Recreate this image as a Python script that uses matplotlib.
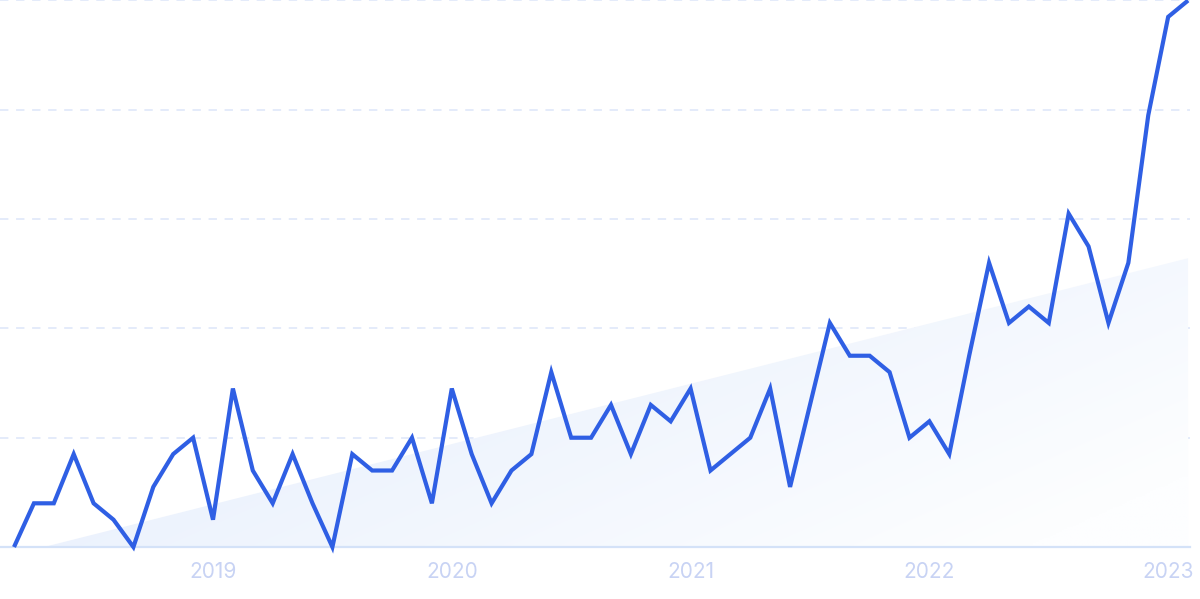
import numpy as np
import matplotlib
matplotlib.use("Agg")
import matplotlib.pyplot as plt
from matplotlib.patches import Polygon

# Monthly values, Mar 2018 .. Feb 2023 (normalized 0-100)
values = [0, 8, 8, 17, 8, 5, 0, 11, 17, 20,
          5, 29, 14, 8, 17, 8, 0, 17, 14, 14,
          20, 8, 29, 17, 8, 14, 17, 32, 20, 20,
          26, 17, 26, 23, 29, 14, 17, 20, 29, 11,
          26, 41, 35, 35, 32, 20, 23, 17, 35, 52,
          41, 44, 41, 61, 55, 41, 52, 79, 97, 100]
year_labels = ["2019", "2020", "2021", "2022", "2023"]
year_positions = [10, 22, 34, 46, 58]   # index of January in each year
grid_levels = [20, 40, 60, 80, 100]

x = np.arange(len(values))
y = np.array(values, dtype=float)

fig = plt.figure(figsize=(12, 5.99), dpi=100)
ax = fig.add_axes([0, 0, 1, 1])
ax.set_xlim(-0.704, 59.6)
ax.set_ylim(-9.51, 100.09)
ax.axis("off")

# grid lines
for g in grid_levels:
    ax.plot([-0.704, 59.1], [g, g], color="#dde6f9", lw=1.1,
            dashes=(5.5, 5), zorder=1)
ax.plot([-0.704, 59.1], [0, 0], color="#d4e2f8", lw=1.6, zorder=2)

# trend fill (linear fit, clipped at zero)
slope, intercept = np.polyfit(x, y, 1)
x0 = max(-intercept / slope, 0)
x_end = x[-1]
ytop = slope * x_end + intercept
poly_pts = [(x0, 0), (x_end, ytop), (x_end, 0)]
poly = Polygon(poly_pts, closed=True, facecolor="none", edgecolor="none")
ax.add_patch(poly)
nx, ny = 400, 200
gx = np.linspace(0, 1, nx)
gy = np.linspace(0, 1, ny)
GX, GY = np.meshgrid(gx, gy)
t = np.clip(0.7 * GX + 0.4 * GY, 0, 1)  # row 0 = top (origin upper)
c0 = np.array([225, 235, 252]) / 255.0
c1 = np.array([253, 254, 255]) / 255.0
img = c0[None, None, :] * (1 - t[..., None]) + c1[None, None, :] * t[..., None]
im = ax.imshow(img, extent=[x0, x_end, 0, ytop], origin="upper",
               aspect="auto", zorder=1.5, interpolation="bilinear")
im.set_clip_path(poly)

# main line
ax.plot(x, y, color="#2f5fe4", lw=3.0, solid_joinstyle="miter",
        solid_capstyle="butt", zorder=5)

# year labels
for pos, lab in zip(year_positions, year_labels):
    ax.text(pos, -4.6, lab, ha="center", va="center", fontsize=15,
            color="#c8d3f4", family="Inter")

fig.savefig("out.png", dpi=100)
